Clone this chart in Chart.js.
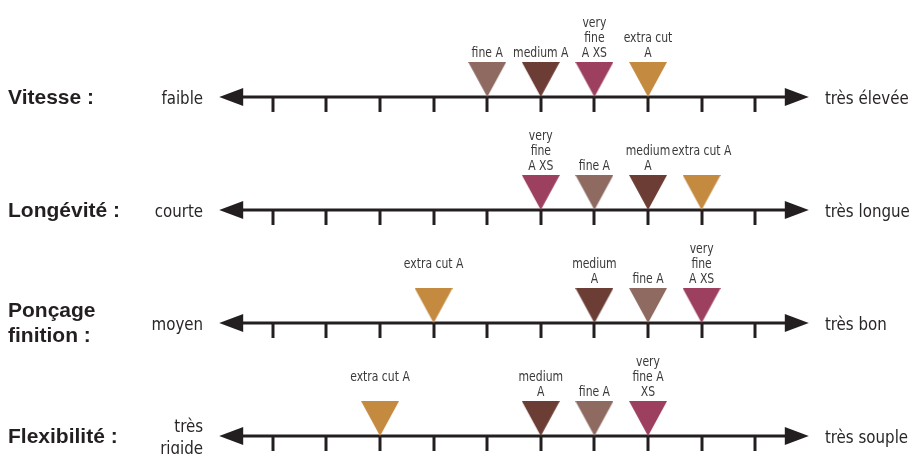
<!DOCTYPE html>
<html>
<head>
<meta charset="utf-8">
<script src="https://cdn.jsdelivr.net/npm/chart.js@4/dist/chart.umd.min.js"></script>
<style>
html,body{margin:0;padding:0;background:#fff;}
#wrap{width:916px;height:454px;position:relative;}
</style>
</head>
<body>
<div id="wrap"><canvas id="c" width="916" height="454"></canvas></div>
<script>
// ---- data ----
const rowTitles = [["Vitesse :"], ["Longévité :"], ["Ponçage", "finition :"], ["Flexibilité :"]];
const lowLabels = [["faible"], ["courte"], ["moyen"], ["très", "rigide"]];
const highLabels = [["très élevée"], ["très longue"], ["très bon"], ["très souple"]];
const tickValues = [1, 2, 3, 4, 5, 6, 7, 8, 9, 10];
const products = ["fine A", "medium A", "very fine A XS", "extra cut A"];
// position (tick number) of each product on each row
const fineA = [5, 7, 8, 7];
const mediumA = [6, 8, 7, 6];
const veryFineAXS = [7, 6, 9, 8];
const extraCutA = [8, 9, 4, 3];
// marker label lines per row
const fineALabels = [["fine A"], ["fine A"], ["fine A"], ["fine A"]];
const mediumALabels = [["medium A"], ["medium", "A"], ["medium", "A"], ["medium", "A"]];
const veryFineAXSLabels = [["very", "fine", "A XS"], ["very", "fine", "A XS"], ["very", "fine", "A XS"], ["very", "fine A", "XS"]];
const extraCutALabels = [["extra cut", "A"], ["extra cut A", ""], ["extra cut A", ""], ["extra cut A", ""]];
const colors = ["#8e6a60", "#6b3d34", "#9d3f5e", "#c48a40"];

// ---- styles ----
const INK = "#231f20";
const LABEL_INK = "#3b3838";
const narrow = "'Liberation Sans Narrow', 'DejaVu Sans Condensed', sans-serif";
const boldFont = "bold 21px 'Liberation Sans', Arial, sans-serif";
const TRI_W = 38, TRI_H = 35;

function triangleCanvas(color) {
  const cv = document.createElement('canvas');
  cv.width = TRI_W; cv.height = TRI_H * 2;
  const g = cv.getContext('2d');
  g.fillStyle = color;
  g.beginPath();
  g.moveTo(0, 0); g.lineTo(TRI_W, 0); g.lineTo(TRI_W / 2, TRI_H); g.closePath();
  g.fill();
  return cv;
}

const seriesValues = [fineA, mediumA, veryFineAXS, extraCutA];
const seriesLabels = [fineALabels, mediumALabels, veryFineAXSLabels, extraCutALabels];

const datasets = products.map((name, i) => ({
  label: name,
  data: seriesValues[i].map((v, r) => ({ x: v, y: r })),
  pointStyle: triangleCanvas(colors[i]),
  pointRadius: 18,
  pointHoverRadius: 18,
  lines: seriesLabels[i]
}));

function narrowText(ctx, t, x, y, sx) {
  ctx.save();
  ctx.translate(x, y);
  ctx.scale(sx, 1);
  ctx.fillText(t, 0, 0);
  ctx.restore();
}

const axesPlugin = {
  id: 'axesPlugin',
  beforeDatasetsDraw(chart) {
    const ctx = chart.ctx, xs = chart.scales.x, ys = chart.scales.y;
    ctx.save();
    rowTitles.forEach((title, r) => {
      const y = ys.getPixelForValue(r);
      const x0 = xs.getPixelForValue(0), x1 = xs.getPixelForValue(11);
      ctx.strokeStyle = INK; ctx.fillStyle = INK;
      ctx.lineWidth = 3;
      ctx.beginPath(); ctx.moveTo(x0 + 15, y); ctx.lineTo(x1 - 15, y); ctx.stroke();
      // arrowheads
      ctx.beginPath(); ctx.moveTo(x0, y); ctx.lineTo(x0 + 24, y - 9); ctx.lineTo(x0 + 24, y + 9); ctx.closePath(); ctx.fill();
      ctx.beginPath(); ctx.moveTo(x1, y); ctx.lineTo(x1 - 24, y - 9); ctx.lineTo(x1 - 24, y + 9); ctx.closePath(); ctx.fill();
      // ticks
      tickValues.forEach(v => {
        const tx = Math.round(xs.getPixelForValue(v));
        ctx.beginPath(); ctx.moveTo(tx, y); ctx.lineTo(tx, y + 15); ctx.stroke();
      });
      // row title
      ctx.font = boldFont; ctx.textAlign = 'left'; ctx.textBaseline = 'middle';
      const tl = title.length, lh = 25;
      title.forEach((t, k) => ctx.fillText(t, 8, y + 1 + (k - (tl - 1) / 2) * lh));
      // low / high labels
      ctx.fillStyle = "#2a2626";
      ctx.font = "18px " + narrow;
      ctx.textAlign = 'right';
      const ll = lowLabels[r];
      ll.forEach((t, k) => narrowText(ctx, t, xs.getPixelForValue(-0.3), y + 2 + (k - (ll.length - 1) / 2) * 22, 0.93));
      ctx.textAlign = 'left';
      highLabels[r].forEach((t, k) => narrowText(ctx, t, xs.getPixelForValue(11.3), y + 2 + k * 22, 0.93));
    });
    ctx.restore();
  },
  afterDatasetsDraw(chart) {
    const ctx = chart.ctx;
    ctx.save();
    ctx.fillStyle = LABEL_INK;
    ctx.font = "14px " + narrow;
    ctx.textAlign = 'center'; ctx.textBaseline = 'alphabetic';
    chart.data.datasets.forEach((ds, i) => {
      const meta = chart.getDatasetMeta(i);
      meta.data.forEach((el, j) => {
        const lines = ds.lines[j];
        const base = el.y - TRI_H - 5;
        lines.forEach((t, k) => {
          narrowText(ctx, t, el.x, base - (lines.length - 1 - k) * 15, 0.86);
        });
      });
    });
    ctx.restore();
  }
};

new Chart(document.getElementById('c'), {
  type: 'scatter',
  data: { datasets },
  options: {
    responsive: false,
    animation: false,
    layout: { padding: 0, autoPadding: false },
    plugins: { legend: { display: false }, tooltip: { enabled: false } },
    events: [],
    scales: {
      x: { type: 'linear', display: false, min: -4.09, max: 13.0 },
      y: { type: 'linear', display: false, reverse: true, min: -0.858, max: 3.159 }
    }
  },
  plugins: [axesPlugin]
});
</script>
</body>
</html>
